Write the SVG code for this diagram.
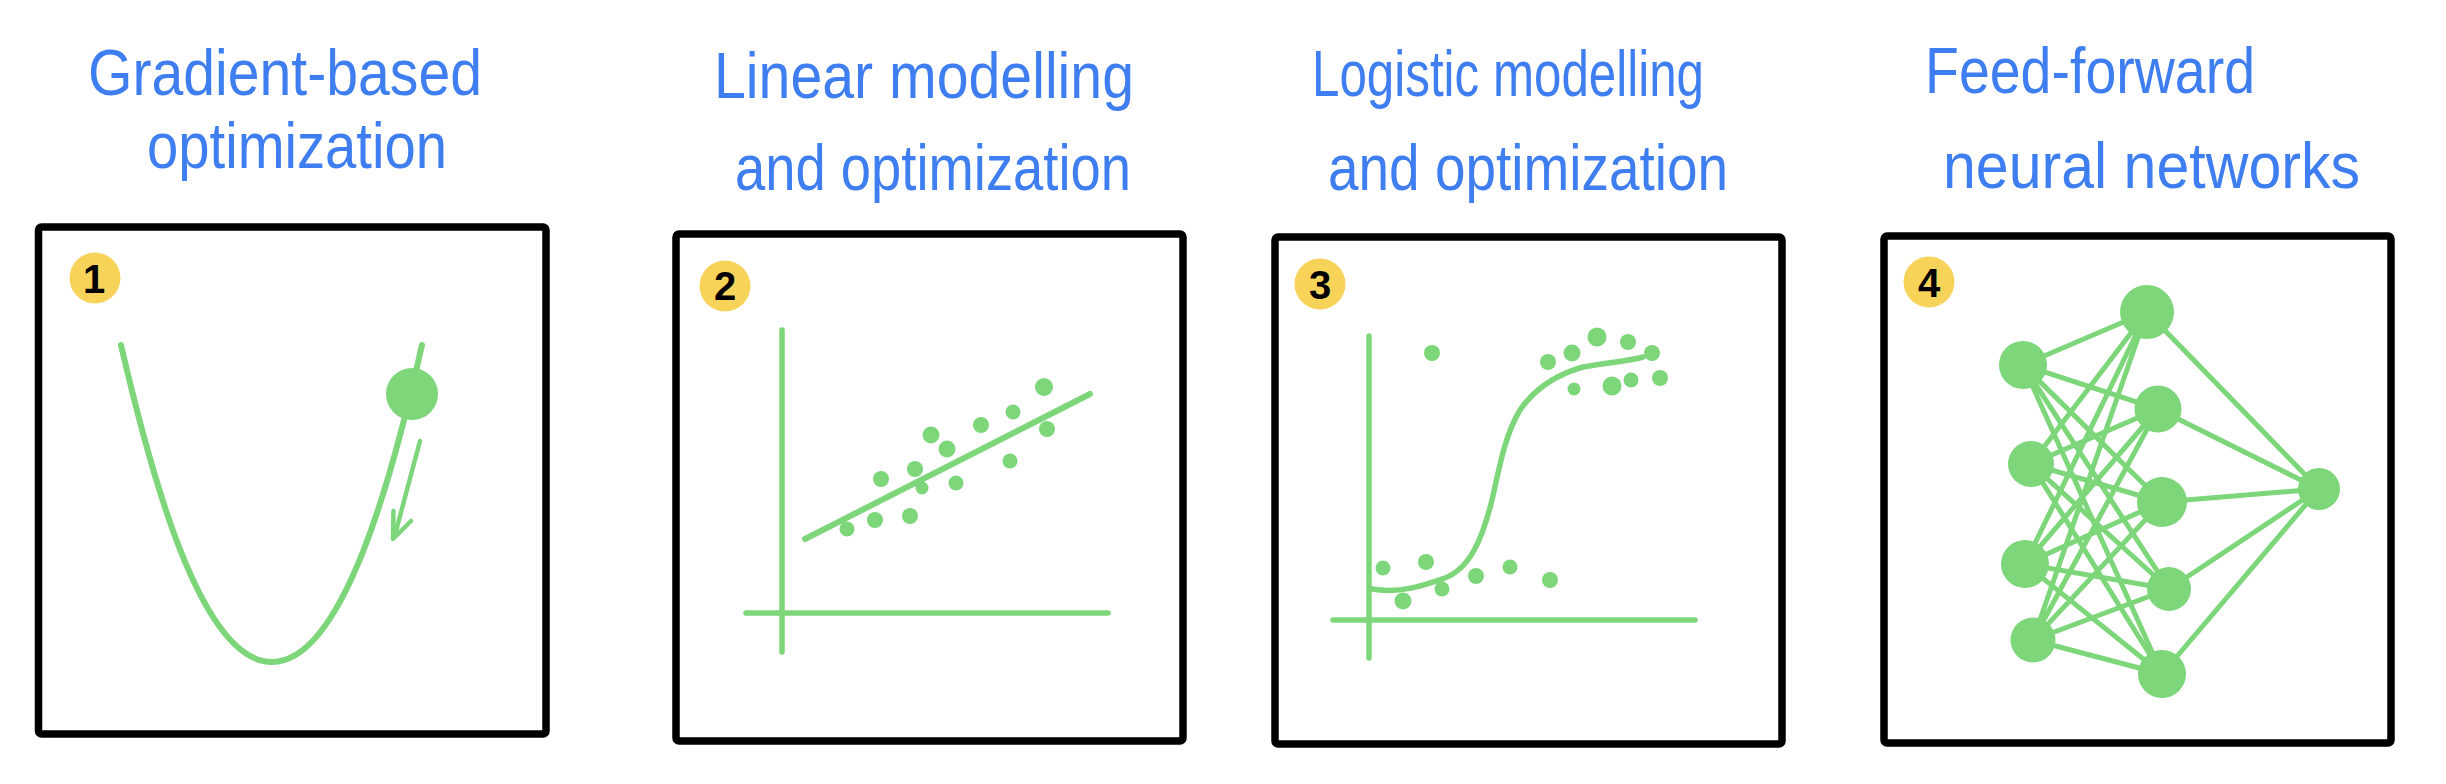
<svg xmlns="http://www.w3.org/2000/svg" width="2446" height="784" viewBox="0 0 2446 784">
<style>
.title{font-family:"Liberation Sans","DejaVu Sans",sans-serif;font-size:64px;fill:#3E7EF0}
.frame{fill:#fff;stroke:#000;stroke-width:7.5}
.badge{fill:#F8D35A}
.num{font-family:"Liberation Sans","DejaVu Sans",sans-serif;font-size:40px;font-weight:bold;fill:#000;text-anchor:middle}
.g{stroke:#7DD67A;stroke-linecap:round;stroke-linejoin:round;fill:none}
.dot{fill:#7DD67A}
.edge{stroke:#7DD67A;stroke-width:5;fill:none}
</style>
<rect width="2446" height="784" fill="#fff"/>

<g id="titles">
<text class="title" x="88" y="95" textLength="394" lengthAdjust="spacingAndGlyphs">Gradient-based</text>
<text class="title" x="147" y="168" textLength="300" lengthAdjust="spacingAndGlyphs">optimization</text>
<text class="title" x="714" y="98" textLength="420" lengthAdjust="spacingAndGlyphs">Linear  modelling</text>
<text class="title" x="735" y="190" textLength="396" lengthAdjust="spacingAndGlyphs">and  optimization</text>
<text class="title" x="1312" y="96" textLength="392" lengthAdjust="spacingAndGlyphs">Logistic  modelling</text>
<text class="title" x="1328" y="190" textLength="400" lengthAdjust="spacingAndGlyphs">and  optimization</text>
<text class="title" x="1925" y="93" textLength="330" lengthAdjust="spacingAndGlyphs">Feed-forward</text>
<text class="title" x="1943" y="188" textLength="417" lengthAdjust="spacingAndGlyphs">neural  networks</text>
</g>

<g id="panel1">
<rect class="frame" x="38.5" y="227" width="507.5" height="507" rx="3"/>
<circle class="badge" cx="95" cy="278" r="25.5"/>
<text class="num" x="94" y="293">1</text>
<path class="g" stroke-width="6" d="M121,345 C150,470 200,662 272,662 C344,662 394,470 422,345"/>
<circle class="dot" cx="412" cy="394" r="26"/>
<path class="g" stroke-width="4.5" d="M420,441 L396,531 M393.5,511 L393,539 L411,521"/>
</g>

<g id="panel2">
<rect class="frame" x="676" y="234" width="507" height="507" rx="3"/>
<circle class="badge" cx="725" cy="286" r="25.5"/>
<text class="num" x="725" y="300">2</text>
<path class="g" stroke-width="5.5" d="M782,330 L782,652 M746,613 L1108,613"/>
<path class="g" stroke-width="6" d="M805,539 L1090,394"/>
<g class="dot">
<circle cx="847" cy="529" r="7.5"/>
<circle cx="875" cy="520" r="8"/>
<circle cx="910" cy="516" r="8"/>
<circle cx="881" cy="479" r="8"/>
<circle cx="915" cy="469" r="8"/>
<circle cx="922" cy="488" r="6.5"/>
<circle cx="931" cy="435" r="8.5"/>
<circle cx="947" cy="449" r="8.5"/>
<circle cx="956" cy="483" r="7.5"/>
<circle cx="981" cy="425" r="8"/>
<circle cx="1010" cy="461" r="7.5"/>
<circle cx="1013" cy="412" r="7.5"/>
<circle cx="1044" cy="387" r="9"/>
<circle cx="1047" cy="429" r="8"/>
</g>
</g>

<g id="panel3">
<rect class="frame" x="1275" y="237" width="507" height="507" rx="3"/>
<circle class="badge" cx="1320" cy="284" r="25.5"/>
<text class="num" x="1320" y="299">3</text>
<path class="g" stroke-width="5.5" d="M1369,336 L1369,658 M1333,620 L1695,620"/>
<path class="g" stroke-width="5.5" d="M1372,589 C1400,594 1425,585 1445,578 C1470,568 1482,540 1492,500 C1500,465 1505,435 1520,410 C1535,388 1555,375 1583,367 C1610,362 1630,361 1643,357"/>
<g class="dot">
<circle cx="1432" cy="353" r="8"/>
<circle cx="1548" cy="362" r="8"/>
<circle cx="1572" cy="353" r="8.5"/>
<circle cx="1597" cy="337" r="9.5"/>
<circle cx="1628" cy="342" r="8"/>
<circle cx="1652" cy="353" r="8"/>
<circle cx="1574" cy="389" r="6.5"/>
<circle cx="1612" cy="386" r="9.5"/>
<circle cx="1631" cy="380" r="7.5"/>
<circle cx="1660" cy="378" r="8"/>
<circle cx="1383" cy="568" r="7.5"/>
<circle cx="1426" cy="562" r="8"/>
<circle cx="1403" cy="601" r="8.5"/>
<circle cx="1442" cy="589" r="7.5"/>
<circle cx="1476" cy="576" r="8"/>
<circle cx="1510" cy="567" r="7.5"/>
<circle cx="1550" cy="580" r="8"/>
</g>
</g>

<g id="panel4">
<rect class="frame" x="1884" y="236" width="507" height="507" rx="3"/>
<circle class="badge" cx="1929" cy="282" r="25.5"/>
<text class="num" x="1929" y="297">4</text>
</g>

<g id="connectors">
<path class="edge" d="M2023,365 L2147,312 M2023,365 L2158,409 M2023,365 L2162,502 M2023,365 L2169,589 M2023,365 L2162,674"/>
<path class="edge" d="M2031,464 L2147,312 M2031,464 L2158,409 M2031,464 L2162,502 M2031,464 L2169,589 M2031,464 L2162,674"/>
<path class="edge" d="M2025,564 L2147,312 M2025,564 L2158,409 M2025,564 L2162,502 M2025,564 L2169,589 M2025,564 L2162,674"/>
<path class="edge" d="M2033,640 L2147,312 M2033,640 L2158,409 M2033,640 L2162,502 M2033,640 L2169,589 M2033,640 L2162,674"/>
<path class="edge" d="M2147,312 L2319,489 M2158,409 L2319,489 M2162,502 L2319,489 M2169,589 L2319,489 M2162,674 L2319,489"/>
</g>

<g id="nn-nodes" class="dot">
<circle id="in1" cx="2023" cy="365" r="24"/>
<circle id="in2" cx="2031" cy="464" r="23"/>
<circle id="in3" cx="2025" cy="564" r="24"/>
<circle id="in4" cx="2033" cy="640" r="22.5"/>
<circle id="h1" cx="2147" cy="312" r="27"/>
<circle id="h2" cx="2158" cy="409" r="23.5"/>
<circle id="h3" cx="2162" cy="502" r="25"/>
<circle id="h4" cx="2169" cy="589" r="22"/>
<circle id="h5" cx="2162" cy="674" r="24"/>
<circle id="out" cx="2319" cy="489" r="21"/>
</g>
</svg>
